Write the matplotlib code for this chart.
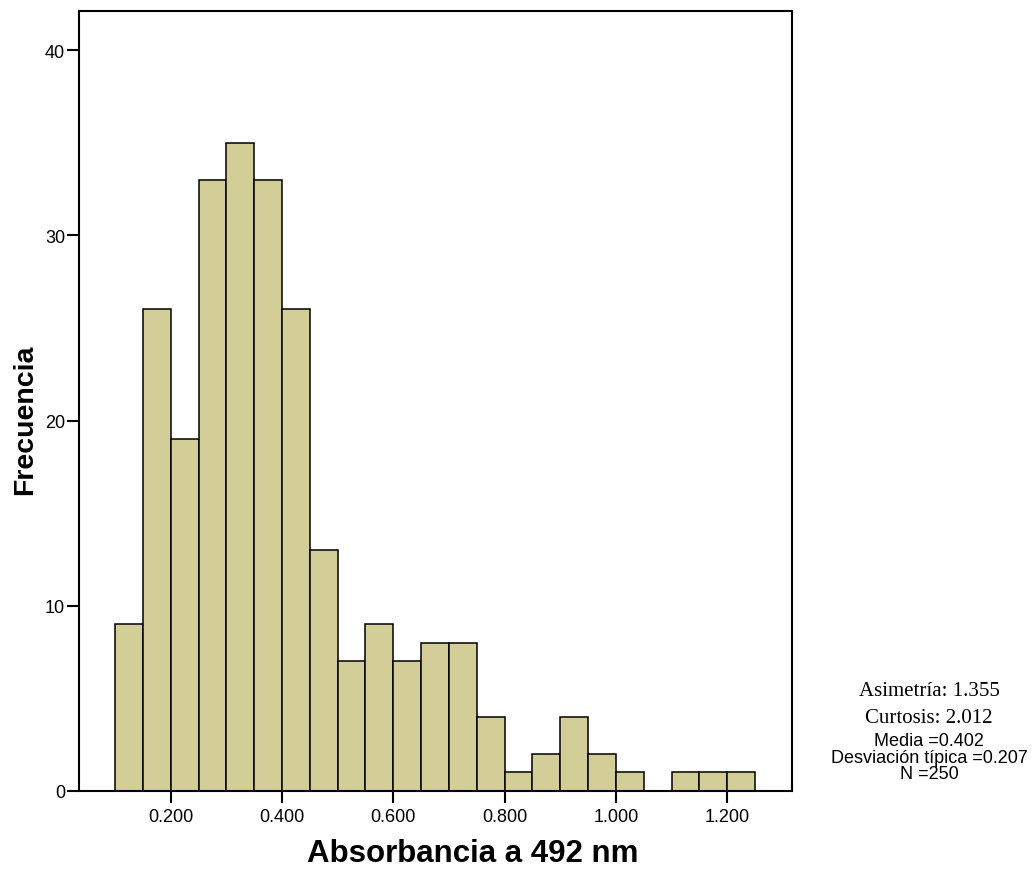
import numpy as np
import matplotlib.pyplot as plt

# histogram bins (absorbance at 492 nm), width 0.05
bin_edges = np.round(np.arange(0.10, 1.2501, 0.05), 3)
counts = [9, 26, 19, 33, 35, 33, 26, 13, 7, 9, 7, 8, 8, 4, 1, 2, 4, 2, 1, 0, 1, 1, 1]
xticks = [0.2, 0.4, 0.6, 0.8, 1.0, 1.2]
yticks = [0, 10, 20, 30, 40]

stats_serif = ['Asimetría: 1.355', 'Curtosis: 2.012']
stats_sans = ['Media =0.402', 'Desviación típica =0.207', 'N =250']

plt.rcParams['font.family'] = ['Liberation Sans', 'DejaVu Sans']

W, H = 1034, 870
fig = plt.figure(figsize=(W / 100, H / 100), dpi=100)
ax = fig.add_axes([79 / W, 1 - 792 / H, (791.7 - 79) / W, (792 - 12.3) / H])

ax.bar(bin_edges[:-1], counts, width=0.05, align='edge',
       color='#D3CE98', edgecolor='black', linewidth=1.1)

ax.set_xlim(0.0352, 1.316)
ax.set_ylim(0, 42.09)
ax.set_xticks(xticks)
ax.set_xticklabels([f'{t:.3f}' for t in xticks])
ax.set_yticks(yticks)
ax.tick_params(axis='both', direction='out', length=8.5, width=1.5, labelsize=13)
ax.tick_params(axis='x', pad=4)
ax.tick_params(axis='y', pad=1.5)
for sp in ax.spines.values():
    sp.set_linewidth(1.5)

ax.set_xlabel('Absorbancia a 492 nm', fontsize=22.5, fontweight='bold')
ax.xaxis.set_label_coords((473 - 79) / 712.7, -(862 - 792) / 780, transform=ax.transAxes)
ax.xaxis.label.set_va('baseline')
ax.set_ylabel('Frecuencia', fontsize=20.5, fontweight='bold')
ax.yaxis.set_label_coords(-(79 - 25) / 712.7, (792 - 420) / 780, transform=ax.transAxes)
ax.yaxis.label.set_va('center')

# summary statistics at right
cx = 929 / W
for txt, yb in zip(stats_serif, [696, 722.7]):
    fig.text(cx, 1 - yb / H, txt, family='Liberation Serif', fontsize=15,
             ha='center', va='baseline')
for txt, yb in zip(stats_sans, [746.5, 763.5, 779]):
    fig.text(cx, 1 - yb / H, txt, fontsize=13, ha='center', va='baseline')

fig.savefig('out.png', dpi=100)
